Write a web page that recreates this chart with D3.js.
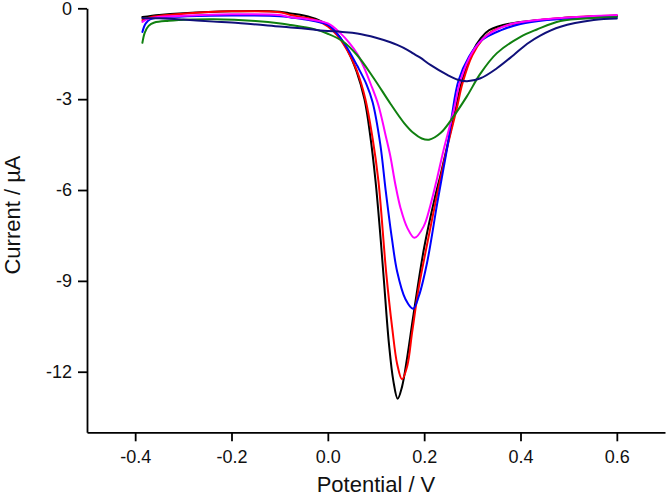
<!DOCTYPE html>
<html>
<head>
<meta charset="utf-8">
<script src="https://cdn.jsdelivr.net/npm/d3@7"></script>
<style>
  html, body { margin: 0; padding: 0; background: #fff; }
  svg { display: block; }
  text { font-family: "Liberation Sans", Arial, Helvetica, sans-serif; }
</style>
</head>
<body>
<svg id="chart" width="666" height="498"></svg>
<script>
// Tick values
const xTicks = [-0.4, -0.2, 0.0, 0.2, 0.4, 0.6];
const yTicks = [0, -3, -6, -9, -12];

// Series: [potential (V), current (µA)]
const blackSeries = [
  [-0.385,-0.29],[-0.35,-0.22],[-0.3,-0.16],[-0.2,-0.1],[-0.1,-0.11],[-0.077,-0.17],[-0.05,-0.24],
  [-0.02,-0.38],[0.0,-0.55],[0.02,-0.85],[0.04,-1.35],[0.06,-2.1],[0.076,-3.0],[0.088,-4.2],
  [0.099,-5.7],[0.108,-7.3],[0.116,-8.9],[0.127,-11.1],[0.136,-12.3],[0.145,-12.89],
  [0.154,-12.5],[0.165,-11.5],[0.178,-10.1],[0.2,-7.9],[0.223,-6.2],[0.234,-5.5],[0.25,-4.4],
  [0.265,-3.35],[0.279,-2.36],[0.3,-1.45],[0.318,-0.98],[0.335,-0.72],[0.38,-0.5],[0.483,-0.33],
  [0.6,-0.25]
];
const redSeries = [
  [-0.385,-0.39],[-0.37,-0.3],[-0.3,-0.18],[-0.2,-0.1],[-0.1,-0.13],[-0.077,-0.22],[-0.05,-0.3],
  [-0.02,-0.42],[0.0,-0.6],[0.02,-0.9],[0.04,-1.38],[0.06,-2.05],[0.078,-3.0],[0.093,-4.3],
  [0.105,-5.7],[0.121,-8.7],[0.134,-10.6],[0.144,-11.75],[0.154,-12.25],[0.165,-11.8],
  [0.175,-10.7],[0.189,-9.2],[0.206,-7.8],[0.234,-5.6],[0.25,-4.45],[0.267,-3.35],[0.28,-2.45],
  [0.3,-1.55],[0.32,-1.05],[0.34,-0.77],[0.38,-0.53],[0.45,-0.37],[0.5,-0.3],[0.6,-0.24]
];
const blueSeries = [
  [-0.385,-0.78],[-0.378,-0.5],[-0.368,-0.36],[-0.3,-0.27],[-0.2,-0.24],[-0.1,-0.26],[-0.077,-0.3],
  [-0.05,-0.36],[0.0,-0.55],[0.02,-0.85],[0.04,-1.3],[0.061,-1.9],[0.08,-2.5],[0.093,-3.1],
  [0.109,-4.5],[0.12,-6.0],[0.133,-7.6],[0.144,-8.7],[0.161,-9.6],[0.177,-9.92],[0.189,-9.5],
  [0.206,-8.4],[0.227,-6.45],[0.24,-5.3],[0.25,-4.4],[0.258,-3.5],[0.271,-2.4],[0.293,-1.6],
  [0.32,-1.05],[0.36,-0.72],[0.4,-0.52],[0.455,-0.39],[0.5,-0.34],[0.6,-0.28]
];
const magentaSeries = [
  [-0.385,-0.45],[-0.37,-0.33],[-0.3,-0.25],[-0.2,-0.2],[-0.1,-0.22],[-0.077,-0.3],[-0.05,-0.34],
  [0.0,-0.5],[0.026,-0.82],[0.045,-1.15],[0.061,-1.5],[0.075,-1.95],[0.089,-2.5],[0.105,-3.2],
  [0.12,-4.2],[0.13,-4.9],[0.14,-5.8],[0.151,-6.6],[0.165,-7.25],[0.18,-7.58],[0.199,-7.2],
  [0.213,-6.5],[0.227,-5.6],[0.24,-4.7],[0.261,-3.4],[0.275,-2.4],[0.3,-1.45],[0.33,-0.9],
  [0.38,-0.52],[0.45,-0.36],[0.5,-0.3],[0.6,-0.22]
];
const greenSeries = [
  [-0.385,-1.14],[-0.38,-0.8],[-0.372,-0.58],[-0.36,-0.47],[-0.33,-0.41],[-0.28,-0.37],
  [-0.237,-0.36],[-0.15,-0.42],[-0.098,-0.5],[-0.077,-0.55],[-0.03,-0.68],[0.0,-0.84],
  [0.03,-1.08],[0.061,-1.55],[0.095,-2.3],[0.13,-3.15],[0.158,-3.78],[0.178,-4.12],
  [0.195,-4.3],[0.21,-4.34],[0.234,-4.12],[0.261,-3.57],[0.289,-2.9],[0.317,-2.15],
  [0.351,-1.48],[0.4,-0.94],[0.434,-0.7],[0.483,-0.42],[0.55,-0.32],[0.6,-0.29]
];
const navySeries = [
  [-0.385,-0.33],[-0.35,-0.33],[-0.3,-0.37],[-0.237,-0.44],[-0.2,-0.47],[-0.1,-0.6],[-0.077,-0.63],
  [-0.036,-0.69],[-0.008,-0.74],[0.03,-0.78],[0.061,-0.83],[0.1,-0.97],[0.13,-1.12],[0.144,-1.21],
  [0.165,-1.37],[0.178,-1.5],[0.192,-1.63],[0.213,-1.87],[0.248,-2.2],[0.27,-2.36],[0.289,-2.41],
  [0.317,-2.31],[0.351,-1.98],[0.386,-1.54],[0.414,-1.17],[0.441,-0.9],[0.483,-0.61],
  [0.552,-0.39],[0.6,-0.34]
];

const seriesList = [
  { data: blackSeries, color: "#000000" },
  { data: redSeries, color: "#ff0000" },
  { data: blueSeries, color: "#0000ff" },
  { data: magentaSeries, color: "#ff00ff" },
  { data: greenSeries, color: "#108010" },
  { data: navySeries, color: "#10107a" }
];

const svg = d3.select("#chart");
const x = d3.scaleLinear().domain([-0.5, 0.7]).range([87, 665]);
const y = d3.scaleLinear().domain([-14, 0]).range([432.3, 8.3]);

const xAxis = d3.axisBottom(x).tickValues(xTicks).tickFormat(d3.format(".1f"))
  .tickSize(9).tickSizeOuter(0).tickPadding(9);
const yAxis = d3.axisLeft(y).tickValues(yTicks)
  .tickSize(9).tickSizeOuter(0).tickPadding(6);

const gx = svg.append("g").attr("transform", "translate(0,432.3)").call(xAxis);
const gy = svg.append("g").attr("transform", "translate(87,0)").call(yAxis);
[gx, gy].forEach(g => {
  g.selectAll("path.domain").attr("stroke", "#000").attr("stroke-width", 1.8);
  g.selectAll(".tick line").attr("stroke", "#000").attr("stroke-width", 1.8);
  g.selectAll(".tick text").attr("fill", "#111").style("font-size", "18px")
    .style("font-family", "'Liberation Sans', Arial, sans-serif");
});
gx.selectAll(".tick text").text(d => d3.format(".1f")(d).replace("−", "-"));
gy.selectAll(".tick text").text(d => String(d));

const line = d3.line().x(d => x(d[0])).y(d => y(d[1])).curve(d3.curveCatmullRom.alpha(0.5));
seriesList.forEach(s => {
  svg.append("path").datum(s.data)
    .attr("fill", "none").attr("stroke", s.color).attr("stroke-width", 2)
    .attr("stroke-linejoin", "round").attr("stroke-linecap", "round")
    .attr("d", line);
});

svg.append("text").attr("x", 376).attr("y", 492).attr("text-anchor", "middle")
  .style("font-size", "22px").attr("fill", "#111").text("Potential / V");
svg.append("text").attr("transform", "translate(20,215) rotate(-90)").attr("text-anchor", "middle")
  .style("font-size", "22px").attr("fill", "#111").text("Current / µA");
</script>
</body>
</html>
